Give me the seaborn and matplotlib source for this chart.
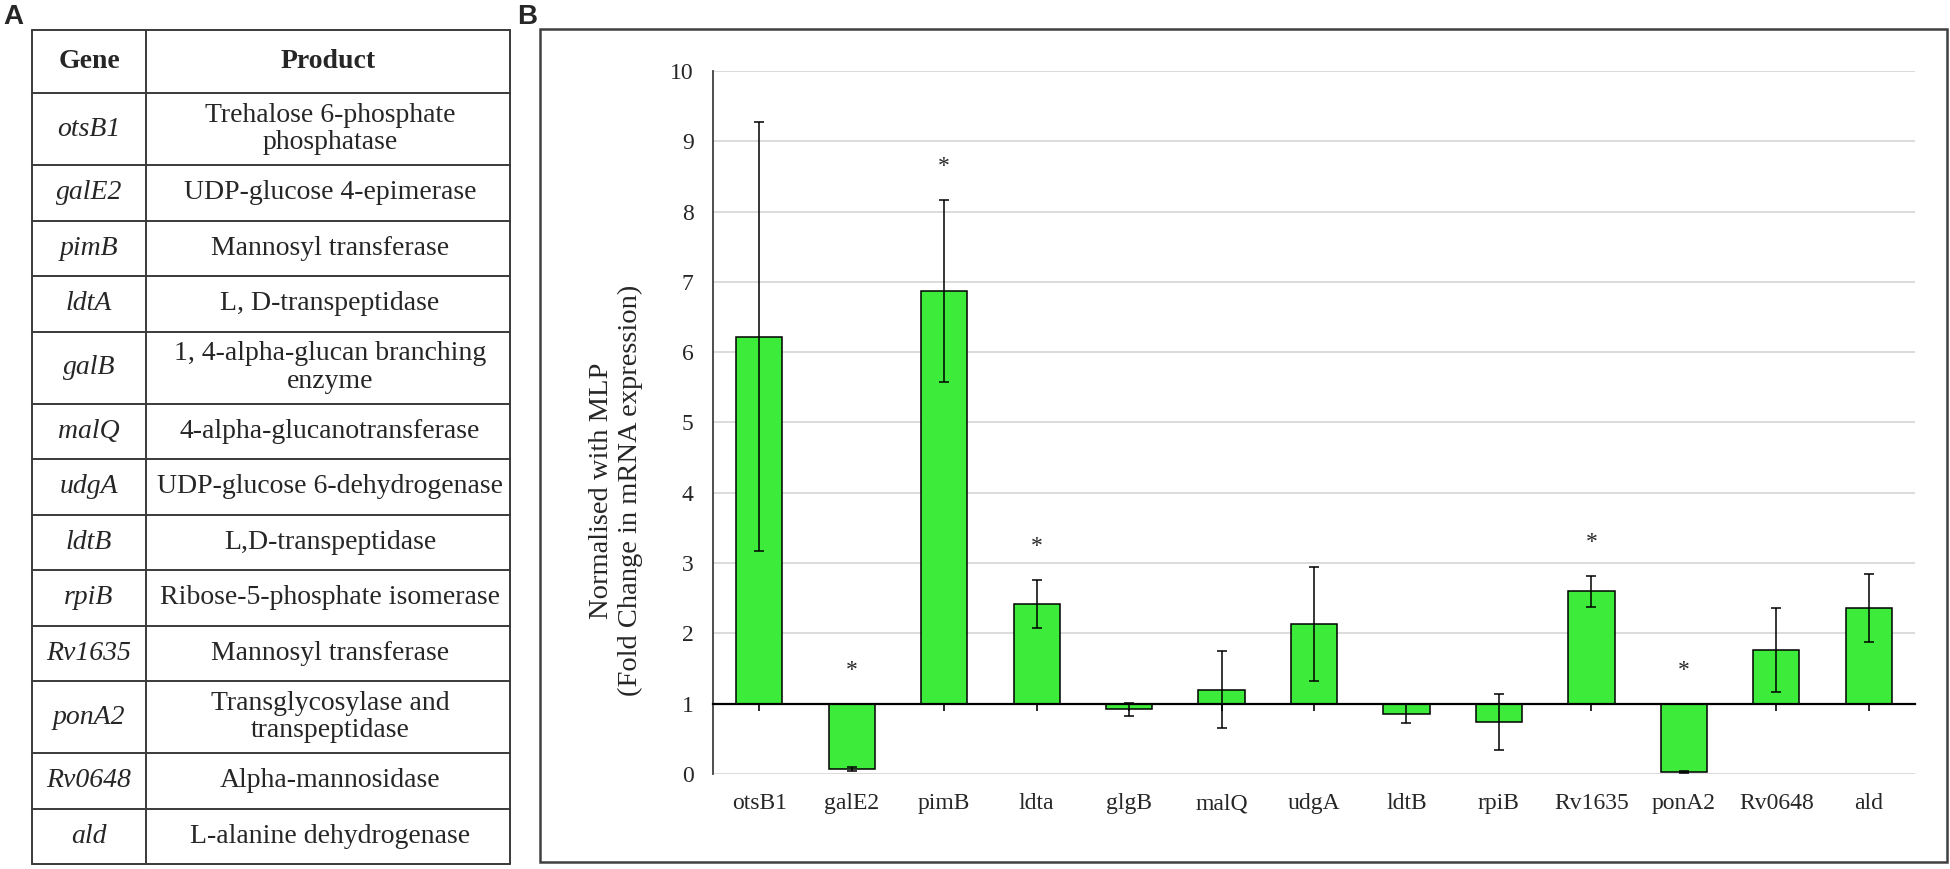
import numpy as np
import pandas as pd
import seaborn as sns
import matplotlib.pyplot as plt
from matplotlib.patches import Rectangle

# Panel B data (fold change normalised with MLP, baseline 1)
genes = ["otsB1", "galE2", "pimB", "ldta", "glgB", "malQ", "udgA",
         "ldtB", "rpiB", "Rv1635", "ponA2", "Rv0648", "ald"]
fold_change = [6.22, 0.07, 6.87, 2.42, 0.92, 1.20, 2.13, 0.86, 0.74, 2.60, 0.03, 1.76, 2.36]
fold_err = [3.05, 0.03, 1.30, 0.34, 0.09, 0.55, 0.81, 0.14, 0.40, 0.22, 0.01, 0.60, 0.48]
significant = [False, True, True, True, False, False, False, False, False, True, True, False, False]

# Panel A table
table_genes = ["otsB1", "galE2", "pimB", "ldtA", "galB", "malQ", "udgA",
               "ldtB", "rpiB", "Rv1635", "ponA2", "Rv0648", "ald"]
table_products = ["Trehalose 6-phosphate\nphosphatase", "UDP-glucose 4-epimerase",
                  "Mannosyl transferase", "L, D-transpeptidase",
                  "1, 4-alpha-glucan branching\nenzyme", "4-alpha-glucanotransferase",
                  "UDP-glucose 6-dehydrogenase", "L,D-transpeptidase",
                  "Ribose-5-phosphate isomerase", "Mannosyl transferase",
                  "Transglycosylase and\ntranspeptidase", "Alpha-mannosidase",
                  "L-alanine dehydrogenase"]

sns.set_style("white")
plt.rcParams['font.family'] = ['Liberation Serif', 'DejaVu Serif']

W, H = 1950, 869
fig = plt.figure(figsize=(W / 100, H / 100), dpi=100)

# overlay in pixel coordinates for the table and frames
tab = fig.add_axes([0, 0, 1, 1])
tab.set_xlim(0, W)
tab.set_ylim(H, 0)
tab.axis('off')

line_kw = dict(color="#3a3a3a", lw=1.4)
x0, x1, x2 = 32, 146, 510
edges = [30, 93]
for p in table_products:
    edges.append(edges[-1] + (72 if "\n" in p else 55.5))
for y in edges:
    tab.plot([x0, x2], [y, y], **line_kw)
for x in (x0, x1, x2):
    tab.plot([x, x], [edges[0], edges[-1]], **line_kw)

tab.text((x0 + x1) / 2, (edges[0] + edges[1]) / 2, "Gene", ha='center', va='center',
         fontsize=20, fontweight='bold')
tab.text((x1 + x2) / 2, (edges[0] + edges[1]) / 2, "Product", ha='center', va='center',
         fontsize=20, fontweight='bold')
for i, (g, p) in enumerate(zip(table_genes, table_products)):
    yc = (edges[i + 1] + edges[i + 2]) / 2
    tab.text((x0 + x1) / 2, yc, g, ha='center', va='center', fontsize=20, style='italic')
    tab.text((x1 + x2) / 2 + 2, yc, p, ha='center', va='center', fontsize=20,
             linespacing=1.15, multialignment='center')

tab.add_patch(Rectangle((540, 29), 1407, 833, fill=False, ec="#404040", lw=1.8))
tab.text(3, 17, "A", fontsize=20, fontweight='bold', family='Liberation Sans',
         ha='left', va='center')
tab.text(517, 17, "B", fontsize=20, fontweight='bold', family='Liberation Sans',
         ha='left', va='center')

# bar chart
ax = fig.add_axes([713 / W, 1 - 774 / H, (1915 - 713) / W, (774 - 71) / H])
df = pd.DataFrame({"gene": genes, "change": np.array(fold_change) - 1})
sns.barplot(data=df, x="gene", y="change", bottom=1, color="#3DEB3A", saturation=1,
            edgecolor="black", linewidth=1.1, width=0.5, errorbar=None, ax=ax, zorder=2)

pos = np.arange(len(genes))
ax.errorbar(pos, fold_change, yerr=fold_err, fmt='none', ecolor='black',
            elinewidth=1.1, capsize=3.5, capthick=1.1, zorder=3)
for i, s in enumerate(significant):
    if s:
        ax.text(i, max(fold_change[i] + fold_err[i], 1) + 0.47, "*", ha='center',
                va='center', fontsize=17)

ax.set_xlim(-0.5, 12.5)
ax.set_ylim(0, 10)
ax.set_yticks(range(11))
ax.yaxis.grid(True, color="#d9d9d9", lw=1.3)
ax.xaxis.grid(False)
ax.set_axisbelow(True)
for s in ("top", "right"):
    ax.spines[s].set_visible(False)
ax.spines['left'].set_color("#404040")
ax.spines['left'].set_linewidth(1.3)
ax.spines['bottom'].set_position(('data', 1))
ax.spines['bottom'].set_color("black")
ax.spines['bottom'].set_linewidth(1.6)
ax.spines['bottom'].set_zorder(4)
ax.tick_params(axis='x', bottom=True, direction='out', length=5, width=1.2,
               color='black', labelbottom=False)
ax.tick_params(axis='y', length=0, labelsize=17, pad=14)
ax.set_xlabel("")
ax.set_ylabel("Normalised with MLP\n(Fold Change in mRNA expression)", fontsize=20.5,
              linespacing=1.2)
ax.yaxis.set_label_coords(-0.058, 0.403)

sec = ax.secondary_xaxis('bottom')
sec.set_xticks(pos)
sec.set_xticklabels(genes)
sec.tick_params(length=0, pad=14, labelsize=17)
sec.spines['bottom'].set_visible(False)

fig.savefig("out.png", dpi=100)
